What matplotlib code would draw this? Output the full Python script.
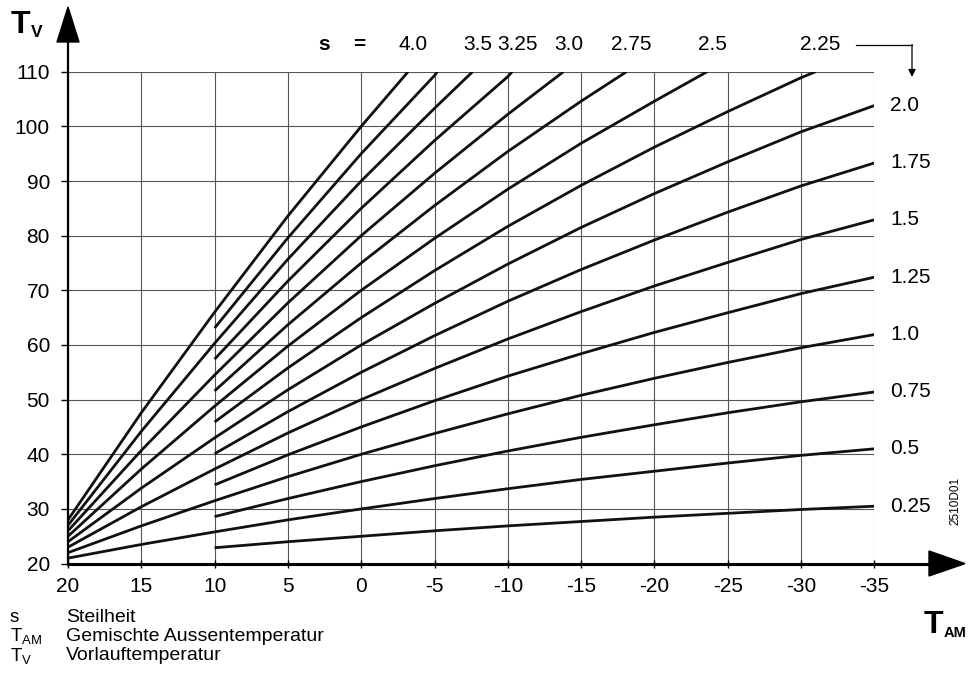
"""Heizkennlinien (Steilheit s) nach dem Siemens-Datenblatt nachgezeichnet.

Speichert das Bild als out.png (976 x 693 px).
"""

import matplotlib
matplotlib.use("Agg")
import matplotlib.pyplot as plt
from matplotlib.lines import Line2D
from matplotlib.patches import Polygon

plt.rcParams["font.family"] = ["Liberation Sans", "DejaVu Sans"]

W, H = 976, 693

# --- Daten ---
# Aussentemperatur-Stützstellen: volle Kurven ab 20 °C, die anderen erst ab 10 °C
ta_voll = [20, 15, 10, 5, 0, -5, -10, -15, -20, -25, -30, -35]
ta_ab10 = [10, 5, 0, -5, -10, -15, -20, -25, -30, -35]

# Vorlauftemperatur je Steilheit; letzter Wert 110 = Kurve verlässt das Diagramm oben
tv_0_25 = [22.9, 24.0, 25.0, 26.0, 26.9, 27.7, 28.5, 29.2, 29.9, 30.5]
tv_0_5 = [21.0, 23.5, 25.8, 28.0, 30.0, 31.9, 33.7, 35.4, 36.9, 38.4, 39.8, 41.0]
tv_0_75 = [28.6, 31.9, 35.0, 37.9, 40.6, 43.1, 45.4, 47.6, 49.6, 51.4]
tv_1_0 = [22.0, 26.9, 31.5, 35.9, 40.0, 43.8, 47.4, 50.8, 53.9, 56.8, 59.5, 61.9]
tv_1_25 = [34.4, 39.9, 45.0, 49.8, 54.3, 58.4, 62.3, 65.9, 69.4, 72.4]
tv_1_5 = [23.0, 30.4, 37.3, 43.9, 50.0, 55.7, 61.1, 66.1, 70.8, 75.1, 79.3, 82.9]
tv_1_75 = [40.1, 47.8, 55.0, 61.7, 68.0, 73.8, 79.2, 84.3, 89.1, 93.3]
tv_2_0 = [24.0, 33.8, 43.0, 51.8, 60.0, 67.6, 74.8, 81.5, 87.7, 93.5, 99.0, 103.8]
tv_2_25 = [45.9, 55.8, 65.0, 73.6, 81.7, 89.2, 96.2, 102.7, 108.9, 110]
tv_2_5 = [25.0, 37.3, 48.8, 59.8, 70.0, 79.5, 88.5, 96.9, 104.6, 110]
tv_2_75 = [51.6, 63.7, 75.0, 85.5, 95.4, 104.6, 110]
tv_3_0 = [26.0, 40.7, 54.5, 67.7, 80.0, 91.4, 102.2, 110]
tv_3_25 = [57.4, 71.7, 85.0, 97.4, 109.1, 110]
tv_3_5 = [27.0, 44.2, 60.3, 75.7, 90.0, 103.3, 110]
tv_3_75 = [63.1, 79.6, 95.0, 109.3, 110]
tv_4_0 = [28.0, 47.6, 66.0, 83.6, 100.0, 110]

# Aussentemperatur, bei der die steilen Kurven die 110-°C-Linie schneiden
ta_bei_110 = {"2.25": -31.0, "2.5": -23.6, "2.75": -18.1, "3.0": -13.8,
              "3.25": -10.3, "3.5": -7.6, "3.75": -5.2, "4.0": -3.2}

s_rechts = ["0.25", "0.5", "0.75", "1.0", "1.25", "1.5", "1.75", "2.0"]
s_oben = ["4.0", "3.5", "3.25", "3.0", "2.75", "2.5", "2.25"]

kurven = [
    ("0.25", ta_ab10, tv_0_25), ("0.5", ta_voll, tv_0_5),
    ("0.75", ta_ab10, tv_0_75), ("1.0", ta_voll, tv_1_0),
    ("1.25", ta_ab10, tv_1_25), ("1.5", ta_voll, tv_1_5),
    ("1.75", ta_ab10, tv_1_75), ("2.0", ta_voll, tv_2_0),
    ("2.25", ta_ab10, tv_2_25), ("2.5", ta_voll, tv_2_5),
    ("2.75", ta_ab10, tv_2_75), ("3.0", ta_voll, tv_3_0),
    ("3.25", ta_ab10, tv_3_25), ("3.5", ta_voll, tv_3_5),
    ("3.75", ta_ab10, tv_3_75), ("4.0", ta_voll, tv_4_0),
]


def px(x, y):
    """Pixel (Ursprung oben links) -> Figure-Koordinaten."""
    return x / W, 1 - y / H


fig = plt.figure(figsize=(W / 100, H / 100), dpi=100)
ax = fig.add_axes([68 / W, 1 - 563.6 / H, 806.3 / W, 491.9 / H])

ende = {}
for s, ta, tv in kurven:
    x = list(ta[:len(tv)])
    if s in ta_bei_110:
        x[-1] = ta_bei_110[s]
    ax.plot(x, tv, color="#111111", lw=2.0, solid_capstyle="butt",
            solid_joinstyle="round", zorder=3)
    ende[s] = (x[-1], tv[-1])

ax.set_xlim(20, -35)
ax.set_ylim(20, 110)
ax.set_xticks(range(20, -36, -5))
ax.set_yticks(range(20, 111, 10))
ax.set_xticklabels([str(v) for v in range(20, -36, -5)])
ax.grid(True, color="#555555", lw=0.8, zorder=1)
for sp in ax.spines.values():
    sp.set_visible(False)
ax.tick_params(axis="y", direction="out", length=5, width=1, labelsize=15, pad=8)
ax.tick_params(axis="x", direction="inout", length=6, width=1, labelsize=15, pad=7)

# Beschriftung rechts (flache Kurven)
for s in s_rechts:
    xe, ye = ende[s]
    ax.annotate(s, (xe, ye), xytext=(11.5, 0), textcoords="offset points",
                ha="left", va="center", fontsize=15, annotation_clip=False)

# Beschriftung oben (steile Kurven)
for s in s_oben:
    xe, _ = ende[s]
    ax.annotate(s, (xe, 110), xytext=(3.6, 19.5), textcoords="offset points",
                ha="center", va="center", fontsize=15, annotation_clip=False)
fig.text(*px(324, 45), "s", fontsize=15, fontweight="bold", ha="center", va="center")
fig.text(*px(359, 45), "=", fontsize=15, fontweight="bold", ha="center", va="center")

# Pfeil von "2.25" nach unten zu den rechten Beschriftungen
fig.add_artist(Line2D(*zip(px(856, 45), px(912, 45)), color="black", lw=0.9,
                      transform=fig.transFigure))
ax.annotate("", xy=px(912, 77), xytext=px(912, 44.5), xycoords="figure fraction",
            textcoords="figure fraction",
            arrowprops=dict(arrowstyle="-|>", color="black", lw=0.9,
                            mutation_scale=11, shrinkA=0, shrinkB=0))

# Achsen mit Pfeilspitzen
fig.add_artist(Line2D(*zip(px(68, 563.6), px(68, 40)), color="black", lw=1.6,
                      transform=fig.transFigure))
fig.add_artist(Polygon([px(57, 42), px(79, 42), px(68, 7)], closed=True,
                       color="black", transform=fig.transFigure))
fig.add_artist(Line2D(*zip(px(68, 563.6), px(932, 563.6)), color="black", lw=2.2,
                      transform=fig.transFigure))
fig.add_artist(Polygon([px(929, 551), px(929, 576), px(965, 563.6)], closed=True,
                       color="black", transform=fig.transFigure))

# Achsentitel
fig.text(*px(11, 33), "T", fontsize=23, fontweight="bold", ha="left", va="baseline")
fig.text(*px(31, 37), "V", fontsize=12.5, fontweight="bold", ha="left", va="baseline")
fig.text(*px(924, 633), "T", fontsize=23, fontweight="bold", ha="left", va="baseline")
fig.text(*px(944, 637), "AM", fontsize=10.5, fontweight="bold", ha="left", va="baseline")

fig.text(*px(955, 501), "2510D01", fontsize=8.5, rotation=90, ha="center", va="center")

# Legende unten
legende = [("s", "Steilheit"),
           ("$\\mathregular{T_{AM}}$", "Gemischte Aussentemperatur"),
           ("$\\mathregular{T_V}$", "Vorlauftemperatur")]
for i, (kurz, lang) in enumerate(legende):
    y = 617 + i * 19.5
    fig.text(*px(10, y), kurz, fontsize=13.5, ha="left", va="center")
    fig.text(*px(66, y), lang, fontsize=14, ha="left", va="center")

fig.savefig("out.png", dpi=100)
